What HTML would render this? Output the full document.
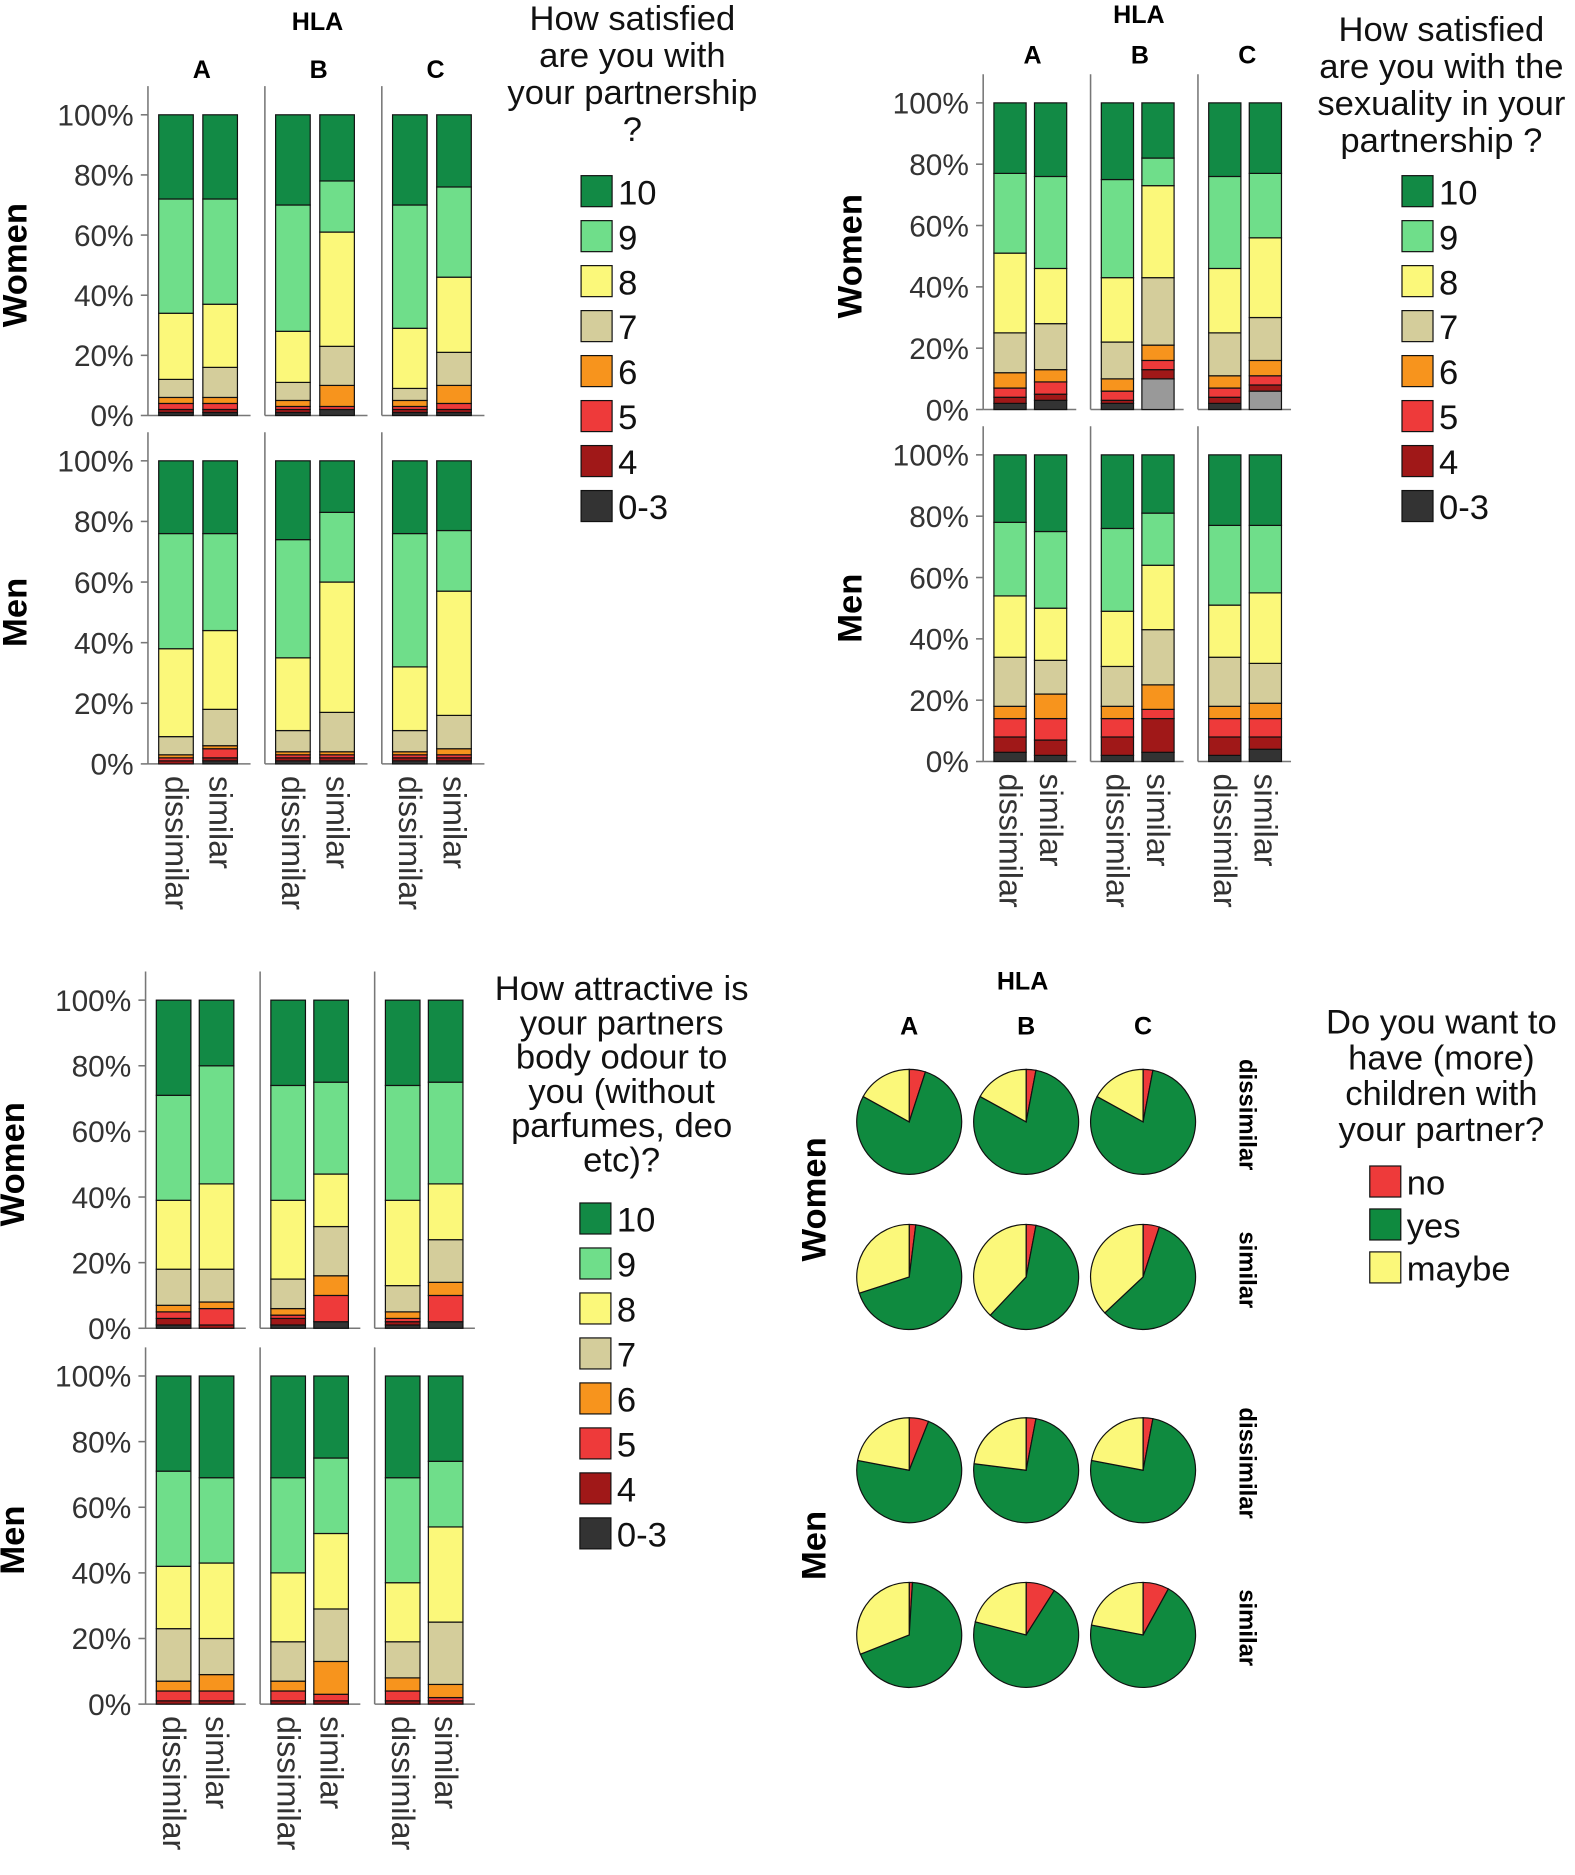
<!DOCTYPE html>
<html><head><meta charset="utf-8"><style>
html,body{margin:0;padding:0;background:#fff}
svg{display:block}
text{font-family:"Liberation Sans",Arial,sans-serif}
</style></head><body>
<svg id="chart" width="1575" height="1875" viewBox="0 0 1320 1571" xmlns="http://www.w3.org/2000/svg"></svg>
<script>
const categories = ["0-3","4","5","6","7","8","9","10"];
const colors = ["#333333","#a01818","#ee3a3a","#f7941d","#d4cd9b","#fbf87a","#6fde8a","#128a45"];
const groups = ["A","B","C"];
const bars = ["dissimilar","similar"];
const yTicks = [0,20,40,60,80,100];
// panel 1: satisfaction with partnership
const p1Women = [[1,1,2,2,6,22,38,28],[1,1,2,2,10,21,35,28],[1,1,1,2,6,17,42,30],[2,0,1,7,13,38,17,22],[1,1,1,2,4,20,41,30],[1,1,2,6,11,25,30,24]];
const p1Men = [[0,1,1,1,6,29,38,24],[1,1,3,1,12,26,32,24],[1,1,1,1,7,24,39,26],[1,1,1,1,13,43,23,17],[1,1,1,1,7,21,44,24],[1,1,1,2,11,41,20,23]];
// panel 2: sexuality
const p2Women = [[2,2,3,5,13,26,26,23],[3,2,4,4,15,18,30,24],[2,1,3,4,12,21,32,25],[10,3,3,5,22,30,9,18],[2,2,3,4,14,21,30,24],[6,2,3,5,14,26,21,23]];
const p2Men = [[3,5,6,4,16,20,24,22],[2,5,7,8,11,17,25,25],[2,6,6,4,13,18,27,24],[3,11,3,8,18,21,17,19],[2,6,6,4,16,17,26,23],[4,4,6,5,13,23,22,23]];
// panel 3: body odour
const p3Women = [[1,2,2,2,11,21,32,29],[0,1,5,2,10,26,36,20],[1,2,1,2,9,24,35,26],[2,0,8,6,15,16,28,25],[1,1,1,2,8,26,35,26],[2,0,8,4,13,17,31,25]];
const p3Men = [[0,1,3,3,16,19,29,29],[0,1,3,5,11,23,26,31],[0,1,3,3,12,21,29,31],[0,1,2,10,16,23,23,25],[0,1,3,4,11,18,32,31],[0,1,1,4,19,29,20,26]];
// panel 4: children pies [no, yes, maybe]
const pieLabels = ["no","yes","maybe"];
const pieColors = ["#ee3a3a","#0f8a3f","#fbf87a"];
const pieWomenDis = [[5,78,17],[3,80,17],[3,80,17]];
const pieWomenSim = [[2,68,30],[3,59,38],[5,58,37]];
const pieMenDis = [[6,72,22],[3,74,23],[3,75,22]];
const pieMenSim = [[1,68,31],[9,70,21],[8,70,22]];

const NS="http://www.w3.org/2000/svg";
const svg=document.getElementById('chart');
function el(tag,attrs,parent,txt){const e=document.createElementNS(NS,tag);for(const k in attrs)e.setAttribute(k,attrs[k]);if(txt!==undefined)e.textContent=txt;(parent||svg).appendChild(e);return e;}

function barRow(g,cfg,data,y0,y100,rowName){
  const y=v=>y0+(y100-y0)*v/100;
  const row=el('g',{},g);
  
  
  groups.forEach((gr,gi)=>{
    const gx=cfg.axisX+gi*cfg.groupW;
    const ln=el('line',{x1:gx,y1:y100-24,x2:gx,y2:y0,stroke:'#777','stroke-width':1.3},row);
    
    
    const bl=el('line',{x1:gx,y1:y0,x2:gx+cfg.groupW-12,y2:y0,stroke:'#777','stroke-width':1.3},row);
    
    
    bars.forEach((b,bi)=>{
      const vals=data[gi*2+bi];
      const bx=gx+cfg.barOff+bi*cfg.barStep;
      let cum=0;
      vals.forEach((v,ci)=>{
        if(v<=0){return;}
        const r=el('rect',{x:bx,y:y(cum+v),width:cfg.barW,height:y(cum)-y(cum+v),fill:(ci===0&&v>=5)?'#999999':colors[ci],stroke:'#111','stroke-width':1},row);
        
        
        cum+=v;
      });
    });
  });
  yTicks.forEach(t=>{
    const tl=el('line',{x1:cfg.axisX-6,y1:y(t),x2:cfg.axisX,y2:y(t),stroke:'#777','stroke-width':1.3},row);
    
    
    const tt=el('text',{x:cfg.axisX-12,y:y(t)+9,'text-anchor':'end','font-size':25,fill:'#333'},row,t+'%');
    
    
  });
  const lbl=el('text',{transform:`translate(${cfg.axisX-102},${(y0+y100)/2}) rotate(-90)`,'text-anchor':'middle','font-size':29,'font-weight':'bold',fill:'#000'},row,rowName==='women'?'Women':'Men');
  
  
}

function barPanel(name,cfg,women,men){
  const g=el('g',{});
  
  
  barRow(g,cfg,women,cfg.w0,cfg.w100,'women');
  barRow(g,cfg,men,cfg.m0,cfg.m100,'men');
  if(cfg.hlaY){
    const h=el('text',{x:cfg.axisX+cfg.groupW*1.45,y:cfg.hlaY,'text-anchor':'middle','font-size':21,'font-weight':'bold'},g,'HLA');
    
    
    groups.forEach((gr,gi)=>{
      const t=el('text',{x:cfg.axisX+gi*cfg.groupW+cfg.groupW*0.46,y:cfg.grpY,'text-anchor':'middle','font-size':21,'font-weight':'bold'},g,gr);
      
      
    });
  }
  groups.forEach((gr,gi)=>bars.forEach((b,bi)=>{
    const bx=cfg.axisX+gi*cfg.groupW+cfg.barOff+bi*cfg.barStep+cfg.barW/2;
    const t=el('text',{transform:`translate(${bx-9},${cfg.m0+10}) rotate(90)`,'font-size':27,fill:'#333'},g,b);
    
    
  }));
  cfg.title.forEach((l,i)=>{
    const t=el('text',{x:cfg.titleX,y:cfg.titleY+i*cfg.titleDy,'text-anchor':'middle','font-size':29,fill:'#111'},g,l);
    
    
  });
  for(let i=7;i>=0;i--){
    const ry=cfg.legY+(7-i)*cfg.legDy;
    const s=el('rect',{x:cfg.legX,y:ry-13,width:26,height:26,fill:colors[i],stroke:'#111','stroke-width':1},g);
    
    
    const t=el('text',{x:cfg.legX+31,y:ry+11,'font-size':29,fill:'#111'},g,categories[i]);
    
    
  }
}

barPanel('partnership-satisfaction-panel',{axisX:124,groupW:98,barOff:9,barStep:37,barW:29,w0:348,w100:96,m0:640,m100:386,hlaY:25,grpY:65,
  title:['How satisfied','are you with','your partnership','?'],titleX:530,titleY:25,titleDy:31,legX:487,legY:160,legDy:37.7},p1Women,p1Men);
barPanel('sexuality-satisfaction-panel',{axisX:824,groupW:90,barOff:9,barStep:34,barW:27,w0:343,w100:86,m0:638,m100:381,hlaY:19,grpY:53,
  title:['How satisfied','are you with the','sexuality in your','partnership ?'],titleX:1208,titleY:34,titleDy:31,legX:1175,legY:160,legDy:37.7},p2Women,p2Men);
barPanel('body-odour-panel',{axisX:122,groupW:96,barOff:9,barStep:36,barW:29,w0:1113,w100:838,m0:1428,m100:1153,hlaY:0,grpY:0,
  title:['How attractive is','your partners','body odour to','you (without','parfumes, deo','etc)?'],titleX:521,titleY:838,titleDy:28.7,legX:486,legY:1021,legDy:37.7},p3Women,p3Men);

const pg=el('g',{});


const pieX=[762,860,958];
const pieRows=[[pieWomenDis,940,'women-dissimilar'],[pieWomenSim,1070,'women-similar'],[pieMenDis,1232,'men-dissimilar'],[pieMenSim,1370,'men-similar']];
const R=44;
function pt(cx,cy,f){const a=f*2*Math.PI;return [cx+R*Math.sin(a),cy-R*Math.cos(a)];}
pieRows.forEach(([arr,cy,rn])=>{
  arr.forEach((vals,gi)=>{
    const cx=pieX[gi];const tot=vals.reduce((a,b)=>a+b,0);let cum=0;
    vals.forEach((v,ci)=>{
      const f0=cum/tot,f1=(cum+v)/tot;cum+=v;
      const [x0,y0]=pt(cx,cy,f0),[x1,y1]=pt(cx,cy,f1);
      const p=el('path',{d:`M${cx},${cy} L${x0},${y0} A${R},${R} 0 ${f1-f0>0.5?1:0} 1 ${x1},${y1} Z`,fill:pieColors[ci],stroke:'#111','stroke-width':1},pg);
      
      
    });
  });
  const lbl=el('text',{transform:`translate(1039,${cy-6}) rotate(90)`,'text-anchor':'middle','font-size':20,'font-weight':'bold'},pg,rn.split('-')[1]);
  
  
});
[['HLA',857,829],['A',762,867],['B',860,867],['C',958,867]].forEach(([t,x,y])=>{
  const e=el('text',{x:x,y:y,'text-anchor':'middle','font-size':21,'font-weight':'bold'},pg,t);
  
  
});
[['Women',1005],['Men',1295]].forEach(([t,y])=>{
  const e=el('text',{transform:`translate(692,${y}) rotate(-90)`,'text-anchor':'middle','font-size':29,'font-weight':'bold'},pg,t);
  
  
});
['Do you want to','have (more)','children with','your partner?'].forEach((l,i)=>{
  const e=el('text',{x:1208,y:866+i*30,'text-anchor':'middle','font-size':29,fill:'#111'},pg,l);
  
  
});
pieLabels.forEach((l,i)=>{
  const ry=990+i*36;
  const s=el('rect',{x:1148,y:ry-13,width:26,height:26,fill:pieColors[i],stroke:'#111','stroke-width':1},pg);
  
  
  const t=el('text',{x:1179,y:ry+11,'font-size':29,fill:'#111'},pg,l);
  
  
});
</script>
</body></html>
